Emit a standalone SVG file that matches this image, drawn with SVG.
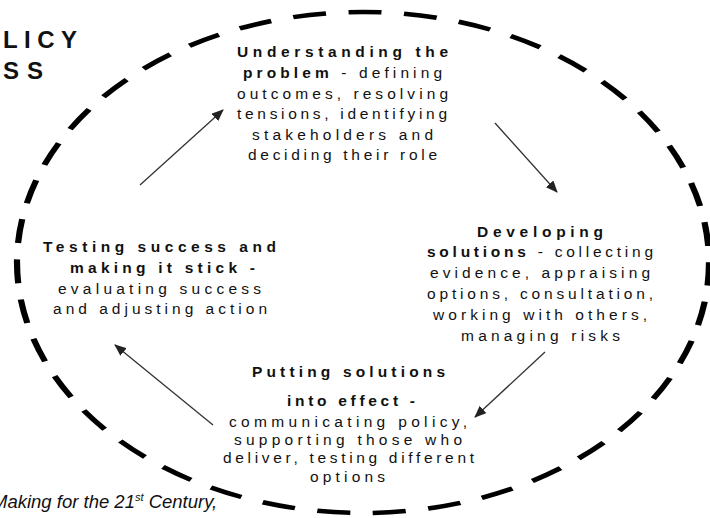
<svg xmlns="http://www.w3.org/2000/svg" width="710" height="518" viewBox="0 0 710 518">
  <defs>
    <marker id="arrowhead" markerUnits="userSpaceOnUse" markerWidth="12" markerHeight="10" refX="11" refY="5" orient="auto">
      <path d="M0,0 L12,5 L0,10 Z" fill="#222"/>
    </marker>
    <style>
      .lbl { font-family: "Liberation Sans", Arial, sans-serif; font-size: 15.5px; fill: #111; text-anchor: middle; }
      .b { font-weight: bold; }
      .title { font-family: "Liberation Sans", Arial, sans-serif; font-size: 24px; font-weight: bold; fill: #111; }
      .foot { font-family: "Liberation Sans", Arial, sans-serif; font-size: 18.5px; font-style: italic; fill: #111; }
      .cycle { fill: none; stroke: #000; stroke-width: 4.5; stroke-dasharray: 24 16.36; stroke-dashoffset: 1; }
      .conn { stroke: #333; stroke-width: 1.3; fill: none; marker-end: url(#arrowhead); }
    </style>
  </defs>

  <rect width="710" height="518" fill="#fff"/>

  <!-- heading, partly off the left edge -->
  <g id="heading">
    <text class="title" x="3" y="48" textLength="74" lengthAdjust="spacing">LICY</text>
    <text class="title" x="3" y="79" textLength="40" lengthAdjust="spacing">SS</text>
  </g>

  <!-- dashed cycle boundary: a dashed circle stretched horizontally -->
  <g id="cycle" transform="translate(363 262.5) scale(1.3812 1)">
    <circle class="cycle" cx="0" cy="0" r="250.5"/>
  </g>

  <g id="connectors">
    <line class="conn" x1="140" y1="185" x2="223" y2="110"/>
    <line class="conn" x1="495" y1="123" x2="557" y2="192"/>
    <line class="conn" x1="545" y1="352" x2="475" y2="417"/>
    <line class="conn" x1="213" y1="425" x2="115" y2="345"/>
  </g>

  <g id="understanding">
    <text class="lbl b" x="342.5" y="57" textLength="211" lengthAdjust="spacing">Understanding the</text>
    <text class="lbl" x="342.5" y="78" textLength="199" lengthAdjust="spacing"><tspan class="b">problem</tspan> - defining</text>
    <text class="lbl" x="342.5" y="98.5" textLength="211" lengthAdjust="spacing">outcomes, resolving</text>
    <text class="lbl" x="342" y="119" textLength="210" lengthAdjust="spacing">tensions, identifying</text>
    <text class="lbl" x="342.5" y="140" textLength="181" lengthAdjust="spacing">stakeholders and</text>
    <text class="lbl" x="342.5" y="160" textLength="189" lengthAdjust="spacing">deciding their role</text>
  </g>

  <g id="developing">
    <text class="lbl b" x="540" y="237" textLength="126" lengthAdjust="spacing">Developing</text>
    <text class="lbl" x="540" y="257" textLength="226" lengthAdjust="spacing"><tspan class="b">solutions</tspan> - collecting</text>
    <text class="lbl" x="540" y="278" textLength="220" lengthAdjust="spacing">evidence, appraising</text>
    <text class="lbl" x="540" y="299" textLength="226" lengthAdjust="spacing">options, consultation,</text>
    <text class="lbl" x="540" y="320" textLength="214" lengthAdjust="spacing">working with others,</text>
    <text class="lbl" x="540.5" y="341" textLength="159" lengthAdjust="spacing">managing risks</text>
  </g>

  <g id="putting">
    <text class="lbl b" x="348.5" y="377" textLength="193" lengthAdjust="spacing">Putting solutions</text>
    <text class="lbl b" x="351" y="406" textLength="128" lengthAdjust="spacing">into effect -</text>
    <text class="lbl" x="348" y="427" textLength="238" lengthAdjust="spacing">communicating policy,</text>
    <text class="lbl" x="348" y="445" textLength="228" lengthAdjust="spacing">supporting those who</text>
    <text class="lbl" x="348.5" y="463" textLength="251" lengthAdjust="spacing">deliver, testing different</text>
    <text class="lbl" x="347.5" y="482" textLength="75" lengthAdjust="spacing">options</text>
  </g>

  <g id="testing">
    <text class="lbl b" x="159.5" y="252" textLength="233" lengthAdjust="spacing">Testing success and</text>
    <text class="lbl b" x="162.5" y="273" textLength="185" lengthAdjust="spacing">making it stick -</text>
    <text class="lbl" x="159.5" y="294" textLength="203" lengthAdjust="spacing">evaluating success</text>
    <text class="lbl" x="160" y="314" textLength="214" lengthAdjust="spacing">and adjusting action</text>
  </g>

  <!-- source line, partly off the left edge -->
  <g id="source">
    <text class="foot" x="-8" y="508">Making for the 21<tspan font-size="11" dy="-7">st</tspan><tspan dy="7"> Century,</tspan></text>
  </g>
</svg>
